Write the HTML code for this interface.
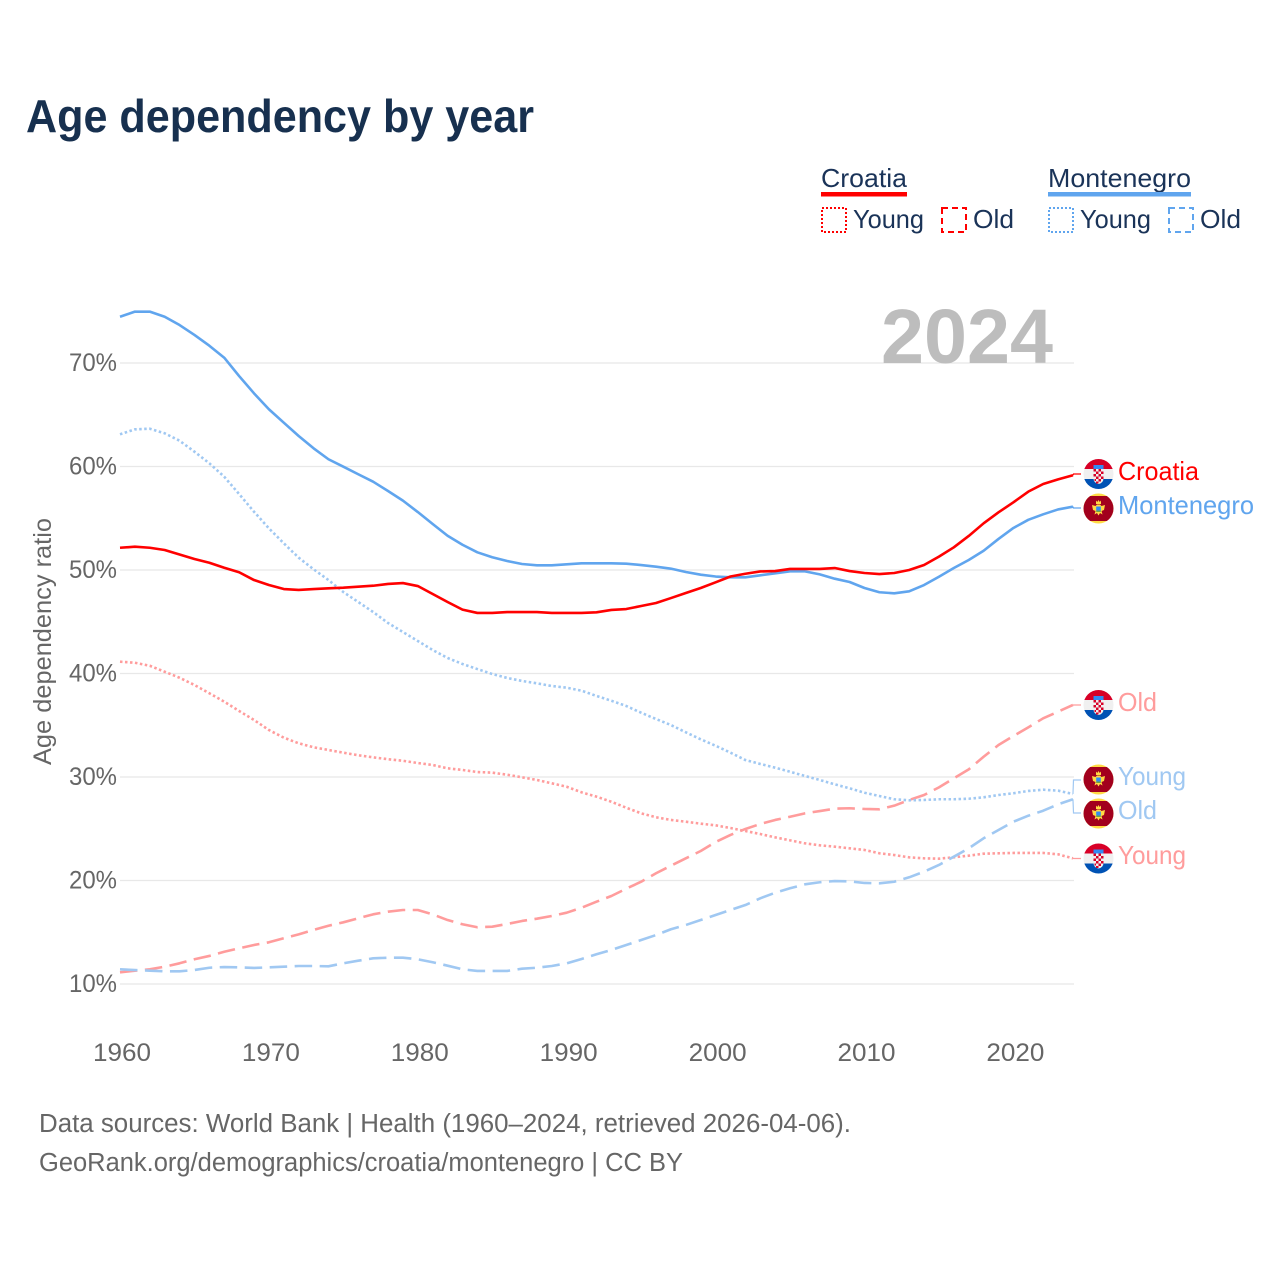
<!DOCTYPE html>
<html lang="en">
<head>
<meta charset="utf-8">
<title>Age dependency by year</title>
<style>
html,body{margin:0;padding:0;background:#fff;width:1280px;height:1280px;overflow:hidden}
svg{display:block;font-family:"Liberation Sans",sans-serif}
.tick{font-size:25px;fill:#666}
.leg{font-size:26px;fill:#1a3358}
.src{font-size:25.5px;fill:#666}
.end{font-size:26px}
</style>
</head>
<body>
<svg id="chart" xmlns="http://www.w3.org/2000/svg" width="1280" height="1280" viewBox="0 0 1280 1280">
  <defs>
    <clipPath id="flag-clip"><circle cx="0" cy="0" r="15"/></clipPath>
    <symbol id="flag-hr" viewBox="-15 -15 30 30" overflow="visible">
      <g clip-path="url(#flag-clip)">
        <rect x="-15" y="-15" width="30" height="10" fill="#d80027"/>
        <rect x="-15" y="-5" width="30" height="10" fill="#f0f0f0"/>
        <rect x="-15" y="5" width="30" height="10" fill="#0052b4"/>
        <rect x="-5" y="-9" width="10" height="4" fill="#338af3"/>
        <path d="M-5,-5 H5 V4 Q5,9 0,10 Q-5,9 -5,4 Z" fill="#f0f0f0"/>
        <path d="M-5,-5 h2.5 v2.5 h-2.5 z M0,-5 h2.5 v2.5 h-2.5 z M-2.5,-2.5 h2.5 v2.5 h-2.5 z M2.5,-2.5 h2.5 v2.5 h-2.5 z M-5,0 h2.5 v2.5 h-2.5 z M0,0 h2.5 v2.5 h-2.5 z M-2.5,2.5 h2.5 v2.5 h-2.5 z M2.5,2.5 h2.5 v2.5 h-2.5 z M-4,5 h1.5 v2 h-1.5 z M0,5 h2.5 v2.5 h-2.5 z M-2.5,7.5 h2.5 v2 h-2.5 z" fill="#d80027"/>
      </g>
    </symbol>
    <symbol id="flag-me" viewBox="-15 -15 30 30" overflow="visible">
      <g clip-path="url(#flag-clip)">
        <rect x="-15" y="-15" width="30" height="30" fill="#ffda44"/>
        <rect x="-15" y="-12.5" width="30" height="25" fill="#a2001d"/>
        <path d="M-2.5,-8 L-1.2,-6.5 L0,-8.5 L1.2,-6.5 L2.5,-8 L2.5,-4.5 L-2.5,-4.5 Z" fill="#ffda44"/>
        <path d="M-6.5,-3.5 L-3,-2.5 L-1.5,-4 H1.5 L3,-2.5 L6.5,-3.5 L5.5,1.5 L3,2.5 L4,6 L1.5,4.5 L0,7 L-1.5,4.5 L-4,6 L-3,2.5 L-5.5,1.5 Z" fill="#ffda44"/>
        <rect x="-2.3" y="-2" width="4.6" height="4" fill="#338af3"/>
        <rect x="-2.3" y="2" width="4.6" height="1.5" fill="#6da544"/>
      </g>
    </symbol>
  </defs>

  <text x="26" y="132" font-size="46" font-weight="bold" fill="#17304f" textLength="508" lengthAdjust="spacingAndGlyphs">Age dependency by year</text>

  <g id="grid"></g>
  <g id="yticks"></g>
  <g id="xticks"></g>

  <text x="881" y="363" font-size="77" font-weight="bold" fill="#bdbdbd" textLength="172" lengthAdjust="spacingAndGlyphs">2024</text>

  <text transform="translate(51,765) rotate(-90)" font-size="25" fill="#666" textLength="247" lengthAdjust="spacingAndGlyphs">Age dependency ratio</text>

  <g>
    <g>
      <text class="leg" x="821" y="187" textLength="86" lengthAdjust="spacingAndGlyphs">Croatia</text>
      <rect x="821" y="192" width="86" height="4.5" fill="#ff0000"/>
      <rect x="822" y="208" width="24" height="24" fill="none" stroke="#ff0000" stroke-width="2" stroke-dasharray="2 2"/>
      <text class="leg" x="853" y="228" textLength="71" lengthAdjust="spacingAndGlyphs">Young</text>
      <rect x="942" y="208" width="24" height="24" fill="none" stroke="#ff0000" stroke-width="2" stroke-dasharray="6 4"/>
      <text class="leg" x="973" y="228" textLength="41" lengthAdjust="spacingAndGlyphs">Old</text>
    </g>
    <g>
      <text class="leg" x="1048" y="187" textLength="143" lengthAdjust="spacingAndGlyphs">Montenegro</text>
      <rect x="1048" y="192" width="143" height="4.5" fill="#60a5ee"/>
      <rect x="1049" y="208" width="24" height="24" fill="none" stroke="#60a5ee" stroke-width="2" stroke-dasharray="2 2"/>
      <text class="leg" x="1080" y="228" textLength="71" lengthAdjust="spacingAndGlyphs">Young</text>
      <rect x="1169" y="208" width="24" height="24" fill="none" stroke="#60a5ee" stroke-width="2" stroke-dasharray="6 4"/>
      <text class="leg" x="1200" y="228" textLength="41" lengthAdjust="spacingAndGlyphs">Old</text>
    </g>
  </g>

  <g id="series"></g>
  <g id="connectors"></g>

  <g>
    <use href="#flag-hr" x="1083.5" y="459" width="30" height="30"/>
    <text class="end" x="1118" y="480" fill="#ff0000" textLength="81" lengthAdjust="spacingAndGlyphs">Croatia</text>
    <use href="#flag-me" x="1083.5" y="493.5" width="30" height="30"/>
    <text class="end" x="1118" y="514" fill="#60a5ee" textLength="136" lengthAdjust="spacingAndGlyphs">Montenegro</text>
    <use href="#flag-hr" x="1083.5" y="690" width="30" height="30"/>
    <text class="end" x="1118" y="711" fill="#ff9c9c" textLength="39" lengthAdjust="spacingAndGlyphs">Old</text>
    <use href="#flag-me" x="1083.5" y="764.5" width="30" height="30"/>
    <text class="end" x="1118" y="785" fill="#a0c8f2" textLength="68" lengthAdjust="spacingAndGlyphs">Young</text>
    <use href="#flag-me" x="1083.5" y="798.5" width="30" height="30"/>
    <text class="end" x="1118" y="819" fill="#a0c8f2" textLength="39" lengthAdjust="spacingAndGlyphs">Old</text>
    <use href="#flag-hr" x="1083.5" y="843.5" width="30" height="30"/>
    <text class="end" x="1118" y="864" fill="#ff9c9c" textLength="68" lengthAdjust="spacingAndGlyphs">Young</text>
  </g>

  <text class="src" x="39" y="1132" textLength="812" lengthAdjust="spacingAndGlyphs">Data sources: World Bank | Health (1960–2024, retrieved 2026-04-06).</text>
  <text class="src" x="39" y="1171" textLength="644" lengthAdjust="spacingAndGlyphs">GeoRank.org/demographics/croatia/montenegro | CC BY</text>
</svg>

<script>
const firstYear = 1960;
const yTickValues = [10, 20, 30, 40, 50, 60, 70];
const xTickValues = [1960, 1970, 1980, 1990, 2000, 2010, 2020];

const croatiaTotal = [52.15,52.25,52.15,51.93,51.5,51.06,50.7,50.22,49.78,49.03,48.55,48.16,48.07,48.16,48.23,48.29,48.39,48.48,48.65,48.74,48.45,47.68,46.91,46.17,45.85,45.85,45.94,45.94,45.94,45.85,45.85,45.85,45.91,46.14,46.23,46.52,46.81,47.29,47.78,48.26,48.81,49.37,49.64,49.86,49.9,50.1,50.1,50.1,50.19,49.9,49.71,49.61,49.71,50.0,50.48,51.29,52.19,53.29,54.51,55.57,56.54,57.57,58.31,58.76,59.15];
const montenegroTotal = [74.47,74.96,74.96,74.47,73.67,72.71,71.67,70.51,68.74,67.07,65.53,64.23,62.95,61.76,60.7,59.98,59.25,58.53,57.63,56.7,55.6,54.44,53.31,52.44,51.71,51.23,50.87,50.58,50.45,50.45,50.55,50.65,50.65,50.65,50.61,50.48,50.32,50.13,49.81,49.55,49.37,49.29,49.29,49.49,49.68,49.87,49.87,49.58,49.16,48.84,48.26,47.85,47.75,47.94,48.55,49.35,50.19,50.97,51.86,53.0,54.06,54.85,55.38,55.85,56.12];
const croatiaYoung = [41.14,41.04,40.75,40.17,39.59,38.89,38.09,37.28,36.38,35.51,34.54,33.8,33.26,32.87,32.61,32.35,32.1,31.9,31.72,31.57,31.35,31.16,30.84,30.68,30.48,30.42,30.22,29.97,29.71,29.39,29.06,28.52,28.1,27.61,27.03,26.49,26.11,25.85,25.68,25.49,25.33,25.07,24.78,24.49,24.17,23.88,23.59,23.4,23.27,23.11,22.95,22.63,22.46,22.24,22.14,22.11,22.24,22.4,22.59,22.63,22.66,22.66,22.66,22.53,22.14];
const croatiaOld = [11.13,11.29,11.42,11.67,12.0,12.39,12.71,13.12,13.45,13.77,14.03,14.42,14.8,15.22,15.63,15.96,16.35,16.73,16.99,17.15,17.15,16.73,16.18,15.77,15.48,15.54,15.8,16.09,16.31,16.57,16.89,17.37,17.95,18.5,19.21,19.88,20.7,21.43,22.14,22.85,23.72,24.4,24.98,25.46,25.85,26.16,26.49,26.71,26.94,26.98,26.91,26.88,27.23,27.78,28.26,29.0,29.87,30.74,31.96,33.09,33.96,34.8,35.67,36.31,36.96];
const montenegroYoung = [63.11,63.59,63.65,63.21,62.49,61.43,60.31,59.01,57.34,55.63,54.03,52.58,51.19,50.07,49.03,47.87,46.91,45.94,44.88,44.01,43.14,42.27,41.5,40.92,40.43,39.95,39.57,39.28,39.05,38.79,38.63,38.34,37.83,37.37,36.86,36.21,35.6,35.02,34.32,33.64,33.02,32.35,31.64,31.26,30.9,30.51,30.1,29.71,29.29,28.91,28.48,28.16,27.85,27.75,27.78,27.85,27.85,27.9,28.04,28.26,28.43,28.65,28.77,28.68,28.36];
const montenegroOld = [11.42,11.35,11.29,11.23,11.23,11.35,11.57,11.64,11.61,11.55,11.61,11.67,11.74,11.74,11.71,12.0,12.25,12.48,12.54,12.54,12.39,12.1,11.77,11.42,11.26,11.26,11.26,11.48,11.57,11.74,12.0,12.42,12.87,13.29,13.77,14.25,14.73,15.29,15.7,16.18,16.67,17.15,17.63,18.28,18.82,19.25,19.63,19.83,19.95,19.92,19.76,19.73,19.88,20.31,20.85,21.5,22.3,23.11,24.08,24.88,25.68,26.26,26.74,27.36,27.85];

const NS = 'http://www.w3.org/2000/svg';
const xScale = function (year) { return 120 + (year - 1960) * 14.89; };
const yScale = function (value) { return 984 - (value - 10) * 10.35; };

function linePath(values) {
  return values.map(function (v, i) {
    return (i ? 'L' : 'M') + xScale(firstYear + i).toFixed(2) + ',' + yScale(v).toFixed(2);
  }).join(' ');
}

const gridGroup = document.getElementById('grid');
const yTickGroup = document.getElementById('yticks');
yTickValues.forEach(function (t) {
  const ln = document.createElementNS(NS, 'line');
  
  
  ln.setAttribute('x1', xScale(1960));
  ln.setAttribute('x2', 1074);
  ln.setAttribute('y1', yScale(t));
  ln.setAttribute('y2', yScale(t));
  ln.setAttribute('stroke', '#e8e8e8');
  ln.setAttribute('stroke-width', '1.3');
  gridGroup.appendChild(ln);
  const tx = document.createElementNS(NS, 'text');
  
  
  tx.setAttribute('class', 'tick');
  tx.setAttribute('x', 69);
  tx.setAttribute('y', yScale(t) + 8);
  tx.setAttribute('textLength', 48);
  tx.setAttribute('lengthAdjust', 'spacingAndGlyphs');
  tx.textContent = t + '%';
  yTickGroup.appendChild(tx);
});

const xTickGroup = document.getElementById('xticks');
xTickValues.forEach(function (t) {
  const tx = document.createElementNS(NS, 'text');
  
  
  tx.setAttribute('class', 'tick');
  tx.setAttribute('x', xScale(t) + 2);
  tx.setAttribute('y', 1061);
  tx.setAttribute('text-anchor', 'middle');
  tx.setAttribute('textLength', 58);
  tx.setAttribute('lengthAdjust', 'spacingAndGlyphs');
  tx.textContent = t;
  xTickGroup.appendChild(tx);
});

const seriesGroup = document.getElementById('series');
function addSeries(name, values, color, dash) {
  const p = document.createElementNS(NS, 'path');
  
  
  p.setAttribute('d', linePath(values));
  p.setAttribute('fill', 'none');
  p.setAttribute('stroke', color);
  p.setAttribute('stroke-width', '2.6');
  p.setAttribute('stroke-linejoin', 'round');
  if (dash) p.setAttribute('stroke-dasharray', dash);
  seriesGroup.appendChild(p);
}
addSeries('line-croatia-young', croatiaYoung, '#ff9c9c', '2.5 2.5');
addSeries('line-croatia-old', croatiaOld, '#ff9c9c', '17.5 7.5');
addSeries('line-montenegro-young', montenegroYoung, '#a0c8f2', '2.5 2.5');
addSeries('line-montenegro-old', montenegroOld, '#a0c8f2', '17.5 7.5');
addSeries('line-montenegro-total', montenegroTotal, '#60a5ee', '');
addSeries('line-croatia-total', croatiaTotal, '#ff0000', '');

const connectorGroup = document.getElementById('connectors');
function addConnector(name, values, labelY, color) {
  const endY = yScale(values[values.length - 1]);
  const c = document.createElementNS(NS, 'path');
  
  
  c.setAttribute('d', 'M' + xScale(2024) + ',' + endY + ' L1073.5,' + labelY + ' L1081,' + labelY);
  c.setAttribute('fill', 'none');
  c.setAttribute('stroke', color);
  c.setAttribute('stroke-width', '1.2');
  connectorGroup.appendChild(c);
}
addConnector('connector-croatia', croatiaTotal, 474, '#ff0000');
addConnector('connector-montenegro', montenegroTotal, 508, '#60a5ee');
addConnector('connector-croatia-old', croatiaOld, 705, '#ff9c9c');
addConnector('connector-montenegro-young', montenegroYoung, 780, '#a0c8f2');
addConnector('connector-montenegro-old', montenegroOld, 813, '#a0c8f2');
addConnector('connector-croatia-young', croatiaYoung, 858.5, '#ff9c9c');
</script>
</body>
</html>
